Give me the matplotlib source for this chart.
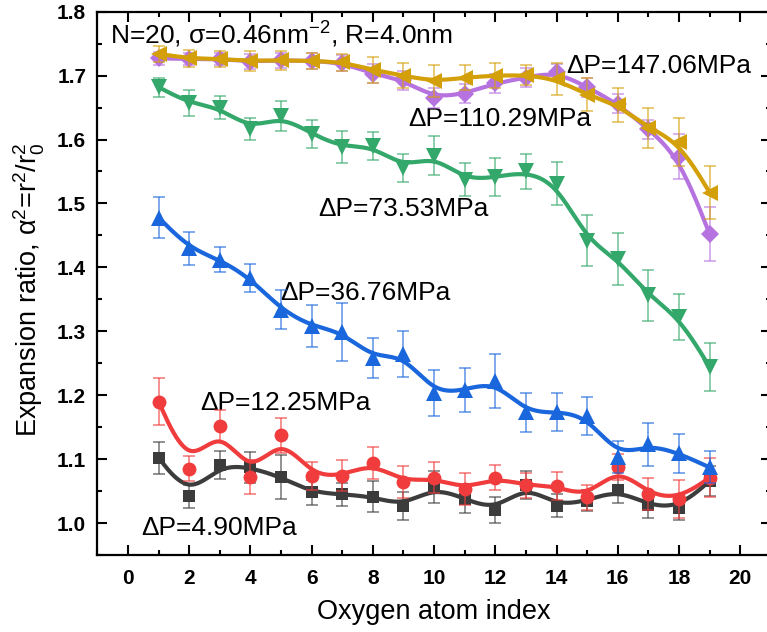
import numpy as np
import matplotlib
matplotlib.use("Agg")
import matplotlib.pyplot as plt
from matplotlib.ticker import MultipleLocator

plt.rcParams['font.family'] = ['Liberation Sans', 'DejaVu Sans']
plt.rcParams['mathtext.fontset'] = 'custom'
plt.rcParams['mathtext.rm'] = 'Liberation Sans'
plt.rcParams['mathtext.it'] = 'Liberation Sans:italic'
plt.rcParams['mathtext.bf'] = 'Liberation Sans:bold'

# ---------------- data ----------------
oxygen_index = np.arange(1, 20)

alpha2_4p90 = [1.102, 1.042, 1.091, 1.087, 1.072, 1.048, 1.045, 1.041, 1.027, 1.056,
               1.038, 1.020, 1.059, 1.027, 1.035, 1.052, 1.028, 1.024, 1.066]
err_4p90 = [0.025, 0.018, 0.022, 0.024, 0.035, 0.020, 0.018, 0.024, 0.022, 0.025,
            0.022, 0.020, 0.022, 0.018, 0.016, 0.020, 0.020, 0.020, 0.024]

alpha2_12p25 = [1.190, 1.085, 1.152, 1.072, 1.137, 1.074, 1.074, 1.094, 1.064, 1.071,
                1.053, 1.071, 1.059, 1.058, 1.040, 1.088, 1.045, 1.038, 1.071]
err_12p25 = [0.037, 0.020, 0.025, 0.026, 0.027, 0.022, 0.024, 0.025, 0.025, 0.024,
             0.025, 0.020, 0.020, 0.022, 0.020, 0.020, 0.025, 0.030, 0.030]

alpha2_36p76 = [1.478, 1.430, 1.412, 1.383, 1.334, 1.308, 1.299, 1.258, 1.264, 1.203,
                1.208, 1.222, 1.173, 1.174, 1.167, 1.104, 1.123, 1.109, 1.087]
err_36p76 = [0.032, 0.026, 0.020, 0.022, 0.030, 0.033, 0.045, 0.031, 0.036, 0.036,
             0.035, 0.042, 0.030, 0.030, 0.030, 0.025, 0.033, 0.030, 0.025]

alpha2_73p53 = [1.682, 1.657, 1.650, 1.616, 1.637, 1.609, 1.588, 1.590, 1.556, 1.575,
                1.537, 1.541, 1.550, 1.531, 1.442, 1.413, 1.356, 1.322, 1.244]
err_73p53 = [0.015, 0.020, 0.018, 0.017, 0.023, 0.022, 0.025, 0.022, 0.022, 0.030,
             0.026, 0.030, 0.028, 0.034, 0.040, 0.040, 0.040, 0.036, 0.038]

alpha2_110p29 = [1.727, 1.726, 1.726, 1.722, 1.724, 1.723, 1.720, 1.703, 1.693, 1.665,
                 1.672, 1.688, 1.697, 1.706, 1.682, 1.656, 1.616, 1.573, 1.452]
err_110p29 = [0.010, 0.010, 0.010, 0.012, 0.012, 0.012, 0.012, 0.015, 0.015, 0.015,
              0.015, 0.015, 0.015, 0.012, 0.015, 0.015, 0.015, 0.035, 0.042]

alpha2_147p06 = [1.734, 1.727, 1.726, 1.723, 1.724, 1.723, 1.721, 1.709, 1.700, 1.691,
                 1.697, 1.700, 1.701, 1.694, 1.670, 1.654, 1.618, 1.596, 1.517]
err_147p06 = [0.012, 0.013, 0.013, 0.015, 0.015, 0.013, 0.013, 0.020, 0.020, 0.025,
              0.020, 0.020, 0.015, 0.025, 0.026, 0.026, 0.032, 0.038, 0.041]

labels = ['ΔP=4.90MPa', 'ΔP=12.25MPa', 'ΔP=36.76MPa', 'ΔP=73.53MPa',
          'ΔP=110.29MPa', 'ΔP=147.06MPa']
x_ticks = [0, 2, 4, 6, 8, 10, 12, 14, 16, 18, 20]
y_ticks = [1.0, 1.1, 1.2, 1.3, 1.4, 1.5, 1.6, 1.7, 1.8]


def bspline(x, y, n=40):
    """Uniform cubic B-spline (Origin-style smoothing line) with clamped ends."""
    x = np.asarray(x, float)
    y = np.asarray(y, float)
    px = np.concatenate([[x[0]] * 2, x, [x[-1]] * 2])
    py = np.concatenate([[y[0]] * 2, y, [y[-1]] * 2])
    t = np.linspace(0, 1, n)
    b0 = (1 - t) ** 3 / 6
    b1 = (3 * t ** 3 - 6 * t ** 2 + 4) / 6
    b2 = (-3 * t ** 3 + 3 * t ** 2 + 3 * t + 1) / 6
    b3 = t ** 3 / 6
    xs, ys = [], []
    for i in range(len(px) - 3):
        xs.append(b0 * px[i] + b1 * px[i + 1] + b2 * px[i + 2] + b3 * px[i + 3])
        ys.append(b0 * py[i] + b1 * py[i + 1] + b2 * py[i + 2] + b3 * py[i + 3])
    return np.concatenate(xs), np.concatenate(ys)


fig = plt.figure(figsize=(7.67, 6.32), dpi=100)
ax = fig.add_axes([97.3 / 767, 1 - 555 / 632, 673.6 / 767, 543.3 / 632])

series = [
    (alpha2_4p90, err_4p90, '#3c3c3c', 's', 9),
    (alpha2_12p25, err_12p25, '#f03c3c', 'o', 10),
    (alpha2_36p76, err_36p76, '#1a66dc', '^', 11),
    (alpha2_73p53, err_73p53, '#33a86a', 'v', 11),
    (alpha2_110p29, err_110p29, '#b673e0', 'D', 9),
    (alpha2_147p06, err_147p06, '#d4a00a', '<', 11),
]

for k, (vals, errs, col, mk, ms) in enumerate(series):
    z = 3 + k
    sx, sy = bspline(oxygen_index, vals)
    ax.plot(sx, sy, color=col, lw=3.0, zorder=z, solid_capstyle='round')
    ax.plot(oxygen_index, vals, linestyle='none', marker=mk, ms=ms,
            color=col, markeredgewidth=0, zorder=z + 0.1)
    ax.errorbar(oxygen_index, vals, yerr=errs, fmt='none', ecolor=col,
                elinewidth=1.2, capsize=4, capthick=1.2, alpha=0.65,
                zorder=z + 0.2)

ax.set_xlim(-1, 21)
ax.set_ylim(0.95, 1.8)
ax.set_xticks(x_ticks)
ax.set_yticks(y_ticks)
ax.set_yticklabels([f'{v:.1f}' for v in y_ticks])
ax.xaxis.set_minor_locator(MultipleLocator(1))
ax.yaxis.set_minor_locator(MultipleLocator(0.05))
ax.tick_params(which='both', direction='in', top=True, right=True, width=1.5)
ax.tick_params(which='major', length=7)
ax.tick_params(which='minor', length=3.5)
ax.tick_params(axis='x', which='major', pad=10, labelsize=15)
ax.tick_params(axis='y', which='major', pad=8, labelsize=15)
for lab in ax.get_xticklabels() + ax.get_yticklabels():
    lab.set_fontweight('bold')
for sp in ax.spines.values():
    sp.set_linewidth(1.6)

ax.set_xlabel('Oxygen atom index', fontsize=19.5, labelpad=8)
ax.set_ylabel('Expansion ratio, α$^2$=r$^2$/r$_0^2$', fontsize=19.5)
ax.yaxis.set_label_coords(-0.074, 0.488)

fs = 19
ax.text(-0.58, 1.764, 'N=20, σ=0.46nm$^{-2}$, R=4.0nm', fontsize=fs, va='center', ha='left')
ax.text(14.3, 1.715, labels[5], fontsize=fs, va='center', ha='left')
ax.text(9.16, 1.632, labels[4], fontsize=fs, va='center', ha='left')
ax.text(6.21, 1.491, labels[3], fontsize=fs, va='center', ha='left')
ax.text(4.98, 1.360, labels[2], fontsize=fs, va='center', ha='left')
ax.text(2.36, 1.188, labels[1], fontsize=fs, va='center', ha='left')
ax.text(0.44, 0.9925, labels[0], fontsize=fs, va='center', ha='left')

fig.savefig('out.png', dpi=100)
